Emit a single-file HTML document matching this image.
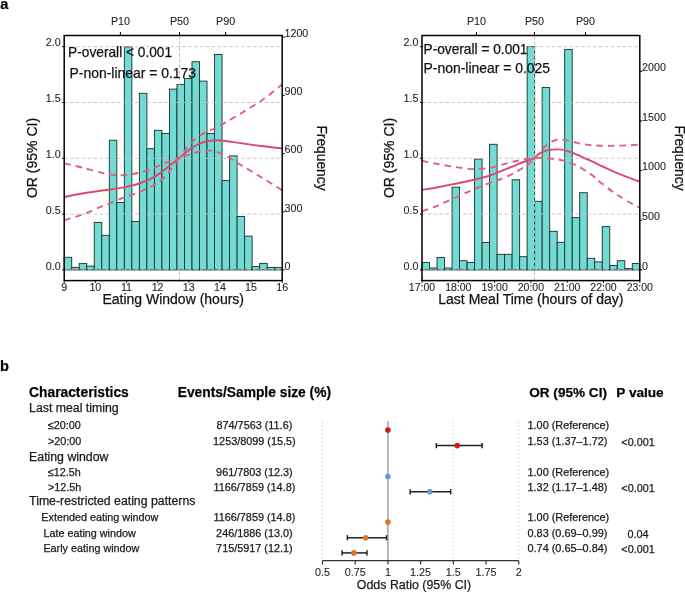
<!DOCTYPE html>
<html><head><meta charset="utf-8"><style>
html,body{margin:0;padding:0;background:#fff;width:685px;height:592px;overflow:hidden}
svg{display:block;will-change:transform}
text{font-family:"Liberation Sans", sans-serif;stroke:#1a1a1a;stroke-width:0.25px}
.tk{fill:#262626;stroke:#262626;stroke-width:0.1px}
</style></head><body>
<svg width="685" height="592" viewBox="0 0 685 592" font-family="&quot;Liberation Sans&quot;, sans-serif">
<rect width="685" height="592" fill="#fff"/>
<rect x="64.2" y="257.3" width="7.52" height="12.6" fill="#72dcd4" stroke="#1a2e2c" stroke-width="0.9"/>
<rect x="71.72" y="267.4" width="7.52" height="2.5" fill="#72dcd4" stroke="#1a2e2c" stroke-width="0.9"/>
<rect x="79.23" y="263.6" width="7.52" height="6.3" fill="#72dcd4" stroke="#1a2e2c" stroke-width="0.9"/>
<rect x="86.75" y="266.1" width="7.52" height="3.8" fill="#72dcd4" stroke="#1a2e2c" stroke-width="0.9"/>
<rect x="94.27" y="222.4" width="7.52" height="47.5" fill="#72dcd4" stroke="#1a2e2c" stroke-width="0.9"/>
<rect x="101.79" y="235.3" width="7.52" height="34.6" fill="#72dcd4" stroke="#1a2e2c" stroke-width="0.9"/>
<rect x="109.3" y="140.2" width="7.52" height="129.7" fill="#72dcd4" stroke="#1a2e2c" stroke-width="0.9"/>
<rect x="116.82" y="202.4" width="7.52" height="67.5" fill="#72dcd4" stroke="#1a2e2c" stroke-width="0.9"/>
<rect x="124.34" y="46.9" width="7.52" height="223" fill="#72dcd4" stroke="#1a2e2c" stroke-width="0.9"/>
<rect x="131.86" y="221.4" width="7.52" height="48.5" fill="#72dcd4" stroke="#1a2e2c" stroke-width="0.9"/>
<rect x="139.37" y="93.3" width="7.52" height="176.6" fill="#72dcd4" stroke="#1a2e2c" stroke-width="0.9"/>
<rect x="146.89" y="148.7" width="7.52" height="121.2" fill="#72dcd4" stroke="#1a2e2c" stroke-width="0.9"/>
<rect x="154.41" y="130.3" width="7.52" height="139.6" fill="#72dcd4" stroke="#1a2e2c" stroke-width="0.9"/>
<rect x="161.92" y="133.5" width="7.52" height="136.4" fill="#72dcd4" stroke="#1a2e2c" stroke-width="0.9"/>
<rect x="169.44" y="89.1" width="7.52" height="180.8" fill="#72dcd4" stroke="#1a2e2c" stroke-width="0.9"/>
<rect x="176.96" y="84.5" width="7.52" height="185.4" fill="#72dcd4" stroke="#1a2e2c" stroke-width="0.9"/>
<rect x="184.48" y="78.6" width="7.52" height="191.3" fill="#72dcd4" stroke="#1a2e2c" stroke-width="0.9"/>
<rect x="191.99" y="61.7" width="7.52" height="208.2" fill="#72dcd4" stroke="#1a2e2c" stroke-width="0.9"/>
<rect x="199.51" y="81.1" width="7.52" height="188.8" fill="#72dcd4" stroke="#1a2e2c" stroke-width="0.9"/>
<rect x="207.03" y="133.5" width="7.52" height="136.4" fill="#72dcd4" stroke="#1a2e2c" stroke-width="0.9"/>
<rect x="214.54" y="54.5" width="7.52" height="215.4" fill="#72dcd4" stroke="#1a2e2c" stroke-width="0.9"/>
<rect x="222.06" y="180.6" width="7.52" height="89.3" fill="#72dcd4" stroke="#1a2e2c" stroke-width="0.9"/>
<rect x="229.58" y="155.9" width="7.52" height="114" fill="#72dcd4" stroke="#1a2e2c" stroke-width="0.9"/>
<rect x="237.1" y="216.5" width="7.52" height="53.4" fill="#72dcd4" stroke="#1a2e2c" stroke-width="0.9"/>
<rect x="244.61" y="236.1" width="7.52" height="33.8" fill="#72dcd4" stroke="#1a2e2c" stroke-width="0.9"/>
<rect x="252.13" y="266.6" width="7.52" height="3.3" fill="#72dcd4" stroke="#1a2e2c" stroke-width="0.9"/>
<rect x="259.65" y="263.4" width="7.52" height="6.5" fill="#72dcd4" stroke="#1a2e2c" stroke-width="0.9"/>
<rect x="267.17" y="267.4" width="7.52" height="2.5" fill="#72dcd4" stroke="#1a2e2c" stroke-width="0.9"/>
<rect x="274.68" y="267.4" width="7.52" height="2.5" fill="#72dcd4" stroke="#1a2e2c" stroke-width="0.9"/>
<line x1="64.2" x2="282.2" y1="269.9" y2="269.9" stroke="#bdbdbd" stroke-opacity="0.85" stroke-width="1" stroke-dasharray="3.4 2.5"/>
<line x1="64.2" x2="282.2" y1="214.1" y2="214.1" stroke="#bdbdbd" stroke-opacity="0.85" stroke-width="1" stroke-dasharray="3.4 2.5"/>
<line x1="64.2" x2="282.2" y1="158.3" y2="158.3" stroke="#bdbdbd" stroke-opacity="0.85" stroke-width="1" stroke-dasharray="3.4 2.5"/>
<line x1="64.2" x2="282.2" y1="102.5" y2="102.5" stroke="#bdbdbd" stroke-opacity="0.85" stroke-width="1" stroke-dasharray="3.4 2.5"/>
<line x1="64.2" x2="282.2" y1="46.7" y2="46.7" stroke="#bdbdbd" stroke-opacity="0.85" stroke-width="1" stroke-dasharray="3.4 2.5"/>
<line x1="179.5" x2="179.5" y1="35.5" y2="280.6" stroke="#bdbdbd" stroke-width="1" stroke-dasharray="3.4 2.5"/>
<path d="M64.4,197 C67.38,196.42 75.95,194.58 82.3,193.5 C88.65,192.42 95.75,191.48 102.5,190.5 C109.25,189.52 117.17,188.6 122.8,187.6 C128.43,186.6 131.77,185.92 136.3,184.5 C140.83,183.08 146.03,181 150,179.1 C153.97,177.2 156.72,175.45 160.1,173.1 C163.48,170.75 167.17,167.47 170.3,165 C173.43,162.53 176.68,160.1 178.9,158.3 C181.12,156.5 181.55,155.87 183.6,154.2 C185.65,152.53 188.67,150 191.2,148.3 C193.73,146.6 196.27,145.13 198.8,144 C201.33,142.87 203.53,142.13 206.4,141.5 C209.27,140.87 212.5,140.25 216,140.2 C219.5,140.15 223.03,140.67 227.4,141.2 C231.77,141.73 236.22,142.55 242.2,143.4 C248.18,144.25 256.67,145.45 263.3,146.3 C269.93,147.15 278.88,148.13 282,148.5" fill="none" stroke="#db4a6d" stroke-width="1.9" stroke-linejoin="round" />
<path d="M64.4,163.4 C67.38,164.1 75.95,166 82.3,167.6 C88.65,169.2 96.88,171.77 102.5,173 C108.12,174.23 111.93,174.67 116,175 C120.07,175.33 123.28,175.33 126.9,175 C130.52,174.67 133.88,173.9 137.7,173 C141.52,172.1 146.5,170.72 149.8,169.6 C153.1,168.48 154.97,167.4 157.5,166.3 C160.03,165.2 162.7,163.85 165,163 C167.3,162.15 168.98,161.98 171.3,161.2 C173.62,160.42 177.63,158.78 178.9,158.3 L178.9,158.3 C179.82,157.12 182.98,153.1 184.4,151.2 C185.82,149.3 186.2,148.37 187.4,146.9 C188.6,145.43 190.2,143.8 191.6,142.4 C193,141 194.35,139.7 195.8,138.5 C197.25,137.3 198.65,136.25 200.3,135.2 C201.95,134.15 203.92,133.08 205.7,132.2 C207.48,131.32 209.37,130.6 211,129.9 C212.63,129.2 213.12,129.22 215.5,128 C217.88,126.78 220.85,125.17 225.3,122.6 C229.75,120.03 235.87,116.48 242.2,112.6 C248.53,108.72 256.67,103.98 263.3,99.3 C269.93,94.62 278.88,86.97 282,84.5" fill="none" stroke="#e0607f" stroke-width="1.9" stroke-linejoin="round" stroke-dasharray="6.5 5"/>
<path d="M64.4,220.1 C67.38,219.18 75.95,216.93 82.3,214.6 C88.65,212.27 95.75,208.87 102.5,206.1 C109.25,203.33 116.93,200.25 122.8,198 C128.67,195.75 132.83,194.6 137.7,192.6 C142.57,190.6 148.28,187.95 152,186 C155.72,184.05 157.88,182.4 160,180.9 C162.12,179.4 163.33,178.35 164.7,177 C166.07,175.65 167.02,174.27 168.2,172.8 C169.38,171.33 170.02,170.62 171.8,168.2 C173.58,165.78 177.72,159.95 178.9,158.3 L178.9,158.3 C179.82,157.93 182.6,156.75 184.4,156.1 C186.2,155.45 187.93,154.97 189.7,154.4 C191.47,153.83 193.23,153.22 195,152.7 C196.77,152.18 198.4,151.67 200.3,151.3 C202.2,150.93 204.37,150.55 206.4,150.5 C208.43,150.45 210.05,150.5 212.5,151 C214.95,151.5 217.92,152.12 221.1,153.5 C224.28,154.88 228.08,157.25 231.6,159.3 C235.12,161.35 236.92,162.6 242.2,165.8 C247.48,169 256.67,174.45 263.3,178.5 C269.93,182.55 278.88,188.17 282,190.1" fill="none" stroke="#e0607f" stroke-width="1.9" stroke-linejoin="round" stroke-dasharray="6.5 5"/>
<rect x="64.2" y="35.5" width="218" height="245.1" fill="none" stroke="#000" stroke-width="1.5"/>
<line x1="120.4" x2="120.4" y1="32" y2="35.5" stroke="#000" stroke-width="1"/>
<text class="tk" x="120.4" y="24.7" font-size="10.7" text-anchor="middle">P10</text>
<line x1="179.5" x2="179.5" y1="32" y2="35.5" stroke="#000" stroke-width="1"/>
<text class="tk" x="179.5" y="24.7" font-size="10.7" text-anchor="middle">P50</text>
<line x1="225.6" x2="225.6" y1="32" y2="35.5" stroke="#000" stroke-width="1"/>
<text class="tk" x="225.6" y="24.7" font-size="10.7" text-anchor="middle">P90</text>
<line x1="62.2" x2="64.2" y1="269.9" y2="269.9" stroke="#000" stroke-width="1"/>
<text class="tk" x="60.6" y="269.6" font-size="10.7" text-anchor="end">0.0</text>
<line x1="62.2" x2="64.2" y1="214.1" y2="214.1" stroke="#000" stroke-width="1"/>
<text class="tk" x="60.6" y="213.8" font-size="10.7" text-anchor="end">0.5</text>
<line x1="62.2" x2="64.2" y1="158.3" y2="158.3" stroke="#000" stroke-width="1"/>
<text class="tk" x="60.6" y="158" font-size="10.7" text-anchor="end">1.0</text>
<line x1="62.2" x2="64.2" y1="102.5" y2="102.5" stroke="#000" stroke-width="1"/>
<text class="tk" x="60.6" y="102.2" font-size="10.7" text-anchor="end">1.5</text>
<line x1="62.2" x2="64.2" y1="46.7" y2="46.7" stroke="#000" stroke-width="1"/>
<text class="tk" x="60.6" y="46.4" font-size="10.7" text-anchor="end">2.0</text>
<line x1="282.2" x2="284.7" y1="269.9" y2="269.9" stroke="#000" stroke-width="1"/>
<text class="tk" x="284.5" y="269.7" font-size="10.7">0</text>
<line x1="282.2" x2="284.7" y1="211.72" y2="211.72" stroke="#000" stroke-width="1"/>
<text class="tk" x="284.5" y="211.52" font-size="10.7">300</text>
<line x1="282.2" x2="284.7" y1="153.55" y2="153.55" stroke="#000" stroke-width="1"/>
<text class="tk" x="284.5" y="153.35" font-size="10.7">600</text>
<line x1="282.2" x2="284.7" y1="95.37" y2="95.37" stroke="#000" stroke-width="1"/>
<text class="tk" x="284.5" y="95.17" font-size="10.7">900</text>
<line x1="282.2" x2="284.7" y1="37.2" y2="37.2" stroke="#000" stroke-width="1"/>
<text class="tk" x="284.5" y="37" font-size="10.7">1200</text>
<line x1="64.2" x2="64.2" y1="280.6" y2="283.1" stroke="#000" stroke-width="0.8"/>
<text class="tk" x="64.2" y="290.6" font-size="10.7" text-anchor="middle">9</text>
<line x1="95.34" x2="95.34" y1="280.6" y2="283.1" stroke="#000" stroke-width="0.8"/>
<text class="tk" x="95.34" y="290.6" font-size="10.7" text-anchor="middle">10</text>
<line x1="126.49" x2="126.49" y1="280.6" y2="283.1" stroke="#000" stroke-width="0.8"/>
<text class="tk" x="126.49" y="290.6" font-size="10.7" text-anchor="middle">11</text>
<line x1="157.63" x2="157.63" y1="280.6" y2="283.1" stroke="#000" stroke-width="0.8"/>
<text class="tk" x="157.63" y="290.6" font-size="10.7" text-anchor="middle">12</text>
<line x1="188.77" x2="188.77" y1="280.6" y2="283.1" stroke="#000" stroke-width="0.8"/>
<text class="tk" x="188.77" y="290.6" font-size="10.7" text-anchor="middle">13</text>
<line x1="219.91" x2="219.91" y1="280.6" y2="283.1" stroke="#000" stroke-width="0.8"/>
<text class="tk" x="219.91" y="290.6" font-size="10.7" text-anchor="middle">14</text>
<line x1="251.06" x2="251.06" y1="280.6" y2="283.1" stroke="#000" stroke-width="0.8"/>
<text class="tk" x="251.06" y="290.6" font-size="10.7" text-anchor="middle">15</text>
<line x1="282.2" x2="282.2" y1="280.6" y2="283.1" stroke="#000" stroke-width="0.8"/>
<text class="tk" x="282.2" y="290.6" font-size="10.7" text-anchor="middle">16</text>
<text x="173.2" y="304" font-size="14" text-anchor="middle" fill="#111">Eating Window (hours)</text>
<text transform="translate(36.6,158) rotate(-90)" font-size="14" text-anchor="middle" fill="#111">OR (95% CI)</text>
<text transform="translate(317,158) rotate(90)" font-size="13.8" text-anchor="middle" fill="#111">Frequency</text>
<text x="68.1" y="56.9" font-size="13.9" fill="#111" textLength="104" lengthAdjust="spacingAndGlyphs">P-overall &lt; 0.001</text>
<text x="69.5" y="77.8" font-size="13.9" fill="#111" textLength="126.6" lengthAdjust="spacingAndGlyphs">P-non-linear = 0.173</text>
<rect x="422" y="262.4" width="7.51" height="7.5" fill="#72dcd4" stroke="#1a2e2c" stroke-width="0.9"/>
<rect x="429.51" y="268" width="7.51" height="1.9" fill="#72dcd4" stroke="#1a2e2c" stroke-width="0.9"/>
<rect x="437.02" y="257.5" width="7.51" height="12.4" fill="#72dcd4" stroke="#1a2e2c" stroke-width="0.9"/>
<rect x="444.53" y="268" width="7.51" height="1.9" fill="#72dcd4" stroke="#1a2e2c" stroke-width="0.9"/>
<rect x="452.04" y="187.2" width="7.51" height="82.7" fill="#72dcd4" stroke="#1a2e2c" stroke-width="0.9"/>
<rect x="459.55" y="260.7" width="7.51" height="9.2" fill="#72dcd4" stroke="#1a2e2c" stroke-width="0.9"/>
<rect x="467.06" y="262.4" width="7.51" height="7.5" fill="#72dcd4" stroke="#1a2e2c" stroke-width="0.9"/>
<rect x="474.57" y="159.1" width="7.51" height="110.8" fill="#72dcd4" stroke="#1a2e2c" stroke-width="0.9"/>
<rect x="482.08" y="242.5" width="7.51" height="27.4" fill="#72dcd4" stroke="#1a2e2c" stroke-width="0.9"/>
<rect x="489.59" y="144.3" width="7.51" height="125.6" fill="#72dcd4" stroke="#1a2e2c" stroke-width="0.9"/>
<rect x="497.1" y="254.3" width="7.51" height="15.6" fill="#72dcd4" stroke="#1a2e2c" stroke-width="0.9"/>
<rect x="504.61" y="254.3" width="7.51" height="15.6" fill="#72dcd4" stroke="#1a2e2c" stroke-width="0.9"/>
<rect x="512.12" y="179.8" width="7.51" height="90.1" fill="#72dcd4" stroke="#1a2e2c" stroke-width="0.9"/>
<rect x="519.63" y="256.7" width="7.51" height="13.2" fill="#72dcd4" stroke="#1a2e2c" stroke-width="0.9"/>
<rect x="527.14" y="46.6" width="7.51" height="223.3" fill="#72dcd4" stroke="#1a2e2c" stroke-width="0.9"/>
<rect x="534.66" y="201.3" width="7.51" height="68.6" fill="#72dcd4" stroke="#1a2e2c" stroke-width="0.9"/>
<rect x="542.17" y="87.5" width="7.51" height="182.4" fill="#72dcd4" stroke="#1a2e2c" stroke-width="0.9"/>
<rect x="549.68" y="231.3" width="7.51" height="38.6" fill="#72dcd4" stroke="#1a2e2c" stroke-width="0.9"/>
<rect x="557.19" y="242.3" width="7.51" height="27.6" fill="#72dcd4" stroke="#1a2e2c" stroke-width="0.9"/>
<rect x="564.7" y="49.4" width="7.51" height="220.5" fill="#72dcd4" stroke="#1a2e2c" stroke-width="0.9"/>
<rect x="572.21" y="217.6" width="7.51" height="52.3" fill="#72dcd4" stroke="#1a2e2c" stroke-width="0.9"/>
<rect x="579.72" y="192.7" width="7.51" height="77.2" fill="#72dcd4" stroke="#1a2e2c" stroke-width="0.9"/>
<rect x="587.23" y="258.3" width="7.51" height="11.6" fill="#72dcd4" stroke="#1a2e2c" stroke-width="0.9"/>
<rect x="594.74" y="261.9" width="7.51" height="8" fill="#72dcd4" stroke="#1a2e2c" stroke-width="0.9"/>
<rect x="602.25" y="226.6" width="7.51" height="43.3" fill="#72dcd4" stroke="#1a2e2c" stroke-width="0.9"/>
<rect x="609.76" y="265.5" width="7.51" height="4.4" fill="#72dcd4" stroke="#1a2e2c" stroke-width="0.9"/>
<rect x="617.27" y="260.7" width="7.51" height="9.2" fill="#72dcd4" stroke="#1a2e2c" stroke-width="0.9"/>
<rect x="624.78" y="268.6" width="7.51" height="1.3" fill="#72dcd4" stroke="#1a2e2c" stroke-width="0.9"/>
<rect x="632.29" y="263.5" width="7.51" height="6.4" fill="#72dcd4" stroke="#1a2e2c" stroke-width="0.9"/>
<line x1="422" x2="639.8" y1="269.9" y2="269.9" stroke="#bdbdbd" stroke-opacity="0.85" stroke-width="1" stroke-dasharray="3.4 2.5"/>
<line x1="422" x2="639.8" y1="214.1" y2="214.1" stroke="#bdbdbd" stroke-opacity="0.85" stroke-width="1" stroke-dasharray="3.4 2.5"/>
<line x1="422" x2="639.8" y1="158.3" y2="158.3" stroke="#bdbdbd" stroke-opacity="0.85" stroke-width="1" stroke-dasharray="3.4 2.5"/>
<line x1="422" x2="639.8" y1="102.5" y2="102.5" stroke="#bdbdbd" stroke-opacity="0.85" stroke-width="1" stroke-dasharray="3.4 2.5"/>
<line x1="422" x2="639.8" y1="46.7" y2="46.7" stroke="#bdbdbd" stroke-opacity="0.85" stroke-width="1" stroke-dasharray="3.4 2.5"/>
<line x1="534.4" x2="534.4" y1="35.5" y2="280.6" stroke="#bdbdbd" stroke-width="1" stroke-dasharray="3.4 2.5"/>
<path d="M422,190 C424.62,189.53 432.12,188.25 437.7,187.2 C443.28,186.15 449.58,184.9 455.5,183.7 C461.42,182.5 467.78,181.27 473.2,180 C478.62,178.73 483.57,177.5 488,176.1 C492.43,174.7 495.87,173.15 499.8,171.6 C503.73,170.05 507.65,168.4 511.6,166.8 C515.55,165.2 519.72,163.42 523.5,162 C527.28,160.58 532.5,158.92 534.3,158.3 L534.3,158.3 C535.1,157.58 537.28,155.25 539.1,154 C540.92,152.75 543,151.53 545.2,150.8 C547.4,150.07 550.1,149.83 552.3,149.6 C554.5,149.37 556.22,149.27 558.4,149.4 C560.58,149.53 562.7,149.7 565.4,150.4 C568.1,151.1 571.72,152.45 574.6,153.6 C577.48,154.75 579.8,156 582.7,157.3 C585.6,158.6 589.08,160.07 592,161.4 C594.92,162.73 596.3,163.47 600.2,165.3 C604.1,167.13 610.33,170.23 615.4,172.4 C620.47,174.57 626.58,176.8 630.6,178.3 C634.62,179.8 638.02,180.88 639.5,181.4" fill="none" stroke="#db4a6d" stroke-width="1.9" stroke-linejoin="round" />
<path d="M422,160.9 C424.62,161.42 432.12,162.97 437.7,164 C443.28,165.03 450.17,166.28 455.5,167.1 C460.83,167.92 465.77,168.58 469.7,168.9 C473.63,169.22 475.47,169.22 479.1,169 C482.73,168.78 487.45,168.37 491.5,167.6 C495.55,166.83 499.45,165.47 503.4,164.4 C507.35,163.33 511.47,162.07 515.2,161.2 C518.93,160.33 522.62,159.68 525.8,159.2 C528.98,158.72 532.88,158.45 534.3,158.3 L534.3,158.3 C535.77,156.67 540.95,150.78 543.1,148.5 C545.25,146.22 545.33,145.92 547.2,144.6 C549.07,143.28 552.27,141.42 554.3,140.6 C556.33,139.78 557.55,139.78 559.4,139.7 C561.25,139.62 562.87,139.68 565.4,140.1 C567.93,140.52 571.72,141.55 574.6,142.2 C577.48,142.85 579.8,143.5 582.7,144 C585.6,144.5 589.08,144.92 592,145.2 C594.92,145.48 596.3,145.6 600.2,145.7 C604.1,145.8 610.33,145.88 615.4,145.8 C620.47,145.72 626.58,145.38 630.6,145.2 C634.62,145.02 638.02,144.78 639.5,144.7" fill="none" stroke="#e0607f" stroke-width="1.9" stroke-linejoin="round" stroke-dasharray="6.5 5"/>
<path d="M422,211.3 C424.62,210.35 432.12,207.9 437.7,205.6 C443.28,203.3 449.58,200.17 455.5,197.5 C461.42,194.83 467.78,191.92 473.2,189.6 C478.62,187.28 483.57,185.28 488,183.6 C492.43,181.92 495.87,181.05 499.8,179.5 C503.73,177.95 508.05,176.05 511.6,174.3 C515.15,172.55 518.13,170.85 521.1,169 C524.07,167.15 527.2,164.98 529.4,163.2 C531.6,161.42 533.48,159.12 534.3,158.3 L534.3,158.3 C535.6,158.22 539.1,157.72 542.1,157.8 C545.1,157.88 548.92,158.37 552.3,158.8 C555.68,159.23 559.87,159.88 562.4,160.4 C564.93,160.92 565.47,161.2 567.5,161.9 C569.53,162.6 572.07,163.42 574.6,164.6 C577.13,165.78 579.8,167.25 582.7,169 C585.6,170.75 589.08,172.9 592,175.1 C594.92,177.3 596.3,179.12 600.2,182.2 C604.1,185.28 610.33,190.13 615.4,193.6 C620.47,197.07 626.58,200.68 630.6,203 C634.62,205.32 638.02,206.75 639.5,207.5" fill="none" stroke="#e0607f" stroke-width="1.9" stroke-linejoin="round" stroke-dasharray="6.5 5"/>
<rect x="422" y="35.5" width="217.8" height="245.1" fill="none" stroke="#000" stroke-width="1.5"/>
<line x1="476.5" x2="476.5" y1="32" y2="35.5" stroke="#000" stroke-width="1"/>
<text class="tk" x="476.5" y="24.7" font-size="10.7" text-anchor="middle">P10</text>
<line x1="534.4" x2="534.4" y1="32" y2="35.5" stroke="#000" stroke-width="1"/>
<text class="tk" x="534.4" y="24.7" font-size="10.7" text-anchor="middle">P50</text>
<line x1="585.5" x2="585.5" y1="32" y2="35.5" stroke="#000" stroke-width="1"/>
<text class="tk" x="585.5" y="24.7" font-size="10.7" text-anchor="middle">P90</text>
<line x1="420" x2="422" y1="269.9" y2="269.9" stroke="#000" stroke-width="1"/>
<text class="tk" x="418.4" y="269.6" font-size="10.7" text-anchor="end">0.0</text>
<line x1="420" x2="422" y1="214.1" y2="214.1" stroke="#000" stroke-width="1"/>
<text class="tk" x="418.4" y="213.8" font-size="10.7" text-anchor="end">0.5</text>
<line x1="420" x2="422" y1="158.3" y2="158.3" stroke="#000" stroke-width="1"/>
<text class="tk" x="418.4" y="158" font-size="10.7" text-anchor="end">1.0</text>
<line x1="420" x2="422" y1="102.5" y2="102.5" stroke="#000" stroke-width="1"/>
<text class="tk" x="418.4" y="102.2" font-size="10.7" text-anchor="end">1.5</text>
<line x1="420" x2="422" y1="46.7" y2="46.7" stroke="#000" stroke-width="1"/>
<text class="tk" x="418.4" y="46.4" font-size="10.7" text-anchor="end">2.0</text>
<line x1="639.8" x2="642.3" y1="269.9" y2="269.9" stroke="#000" stroke-width="1"/>
<text class="tk" x="642.1" y="269.7" font-size="10.7">0</text>
<line x1="639.8" x2="642.3" y1="220.25" y2="220.25" stroke="#000" stroke-width="1"/>
<text class="tk" x="642.1" y="220.05" font-size="10.7">500</text>
<line x1="639.8" x2="642.3" y1="170.6" y2="170.6" stroke="#000" stroke-width="1"/>
<text class="tk" x="642.1" y="170.4" font-size="10.7">1000</text>
<line x1="639.8" x2="642.3" y1="120.95" y2="120.95" stroke="#000" stroke-width="1"/>
<text class="tk" x="642.1" y="120.75" font-size="10.7">1500</text>
<line x1="639.8" x2="642.3" y1="71.3" y2="71.3" stroke="#000" stroke-width="1"/>
<text class="tk" x="642.1" y="71.1" font-size="10.7">2000</text>
<line x1="422" x2="422" y1="280.6" y2="283.1" stroke="#000" stroke-width="0.8"/>
<text class="tk" x="422" y="291" font-size="10.5" text-anchor="middle">17:00</text>
<line x1="458.3" x2="458.3" y1="280.6" y2="283.1" stroke="#000" stroke-width="0.8"/>
<text class="tk" x="458.3" y="291" font-size="10.5" text-anchor="middle">18:00</text>
<line x1="494.6" x2="494.6" y1="280.6" y2="283.1" stroke="#000" stroke-width="0.8"/>
<text class="tk" x="494.6" y="291" font-size="10.5" text-anchor="middle">19:00</text>
<line x1="530.9" x2="530.9" y1="280.6" y2="283.1" stroke="#000" stroke-width="0.8"/>
<text class="tk" x="530.9" y="291" font-size="10.5" text-anchor="middle">20:00</text>
<line x1="567.2" x2="567.2" y1="280.6" y2="283.1" stroke="#000" stroke-width="0.8"/>
<text class="tk" x="567.2" y="291" font-size="10.5" text-anchor="middle">21:00</text>
<line x1="603.5" x2="603.5" y1="280.6" y2="283.1" stroke="#000" stroke-width="0.8"/>
<text class="tk" x="603.5" y="291" font-size="10.5" text-anchor="middle">22:00</text>
<line x1="639.8" x2="639.8" y1="280.6" y2="283.1" stroke="#000" stroke-width="0.8"/>
<text class="tk" x="639.8" y="291" font-size="10.5" text-anchor="middle">23:00</text>
<text x="530.9" y="304" font-size="14" text-anchor="middle" fill="#111">Last Meal Time (hours of day)</text>
<text transform="translate(394.4,158) rotate(-90)" font-size="14" text-anchor="middle" fill="#111">OR (95% CI)</text>
<text transform="translate(674.6,158) rotate(90)" font-size="13.8" text-anchor="middle" fill="#111">Frequency</text>
<text x="423.5" y="53.9" font-size="13.9" fill="#111" textLength="104" lengthAdjust="spacingAndGlyphs">P-overall = 0.001</text>
<text x="423.5" y="73" font-size="13.9" fill="#111" textLength="126.6" lengthAdjust="spacingAndGlyphs">P-non-linear = 0.025</text>
<text x="0.3" y="8.8" font-size="14.6" font-weight="bold">a</text>
<text x="0" y="370.6" font-size="14.6" font-weight="bold">b</text>
<text x="29.1" y="397" font-size="13.8" font-weight="bold">Characteristics</text>
<text x="254.4" y="396.6" font-size="13.8" font-weight="bold" text-anchor="middle">Events/Sample size (%)</text>
<text x="529.2" y="397" font-size="13.6" font-weight="bold">OR (95% CI)</text>
<text x="616.3" y="397" font-size="13.6" font-weight="bold">P value</text>
<line x1="322.5" x2="322.5" y1="421" y2="560" stroke="#d0d0d0" stroke-width="0.8" stroke-dasharray="2 2"/>
<line x1="453.3" x2="453.3" y1="421" y2="560" stroke="#d0d0d0" stroke-width="0.8" stroke-dasharray="2 2"/>
<line x1="518.7" x2="518.7" y1="421" y2="560" stroke="#d0d0d0" stroke-width="0.8" stroke-dasharray="2 2"/>
<line x1="387.9" x2="387.9" y1="421" y2="560" stroke="#b3b3b3" stroke-width="1.8"/>
<text x="29.1" y="411.5" font-size="12.3" fill="#1a1a1a">Last meal timing</text>
<text x="47.9" y="429.2" font-size="10.8" fill="#1a1a1a">&#8804;20:00</text>
<text x="254.4" y="429.2" font-size="10.85" text-anchor="middle" fill="#1a1a1a">874/7563 (11.6)</text>
<text x="527.5" y="429.2" font-size="10.9" fill="#1a1a1a">1.00 (Reference)</text>
<circle cx="387.9" cy="430.1" r="2.8" fill="#cd1c12"/>
<text x="47.9" y="444.7" font-size="10.8" fill="#1a1a1a">&gt;20:00</text>
<text x="254.4" y="444.7" font-size="10.85" text-anchor="middle" fill="#1a1a1a">1253/8099 (15.5)</text>
<text x="527.5" y="444.7" font-size="10.9" fill="#1a1a1a">1.53 (1.37&#8211;1.72)</text>
<text x="638" y="445.6" font-size="10.8" text-anchor="middle" fill="#1a1a1a">&lt;0.001</text>
<line x1="436.3" x2="482.08" y1="445.6" y2="445.6" stroke="#222" stroke-width="1.5"/>
<line x1="436.3" x2="436.3" y1="443" y2="448.2" stroke="#222" stroke-width="1.5"/>
<line x1="482.08" x2="482.08" y1="443" y2="448.2" stroke="#222" stroke-width="1.5"/>
<circle cx="457.22" cy="445.6" r="2.8" fill="#cd1c12"/>
<text x="29.1" y="461.2" font-size="12.3" fill="#1a1a1a">Eating window</text>
<text x="47.9" y="475.6" font-size="10.8" fill="#1a1a1a">&#8804;12.5h</text>
<text x="254.4" y="475.6" font-size="10.85" text-anchor="middle" fill="#1a1a1a">961/7803 (12.3)</text>
<text x="527.5" y="475.6" font-size="10.9" fill="#1a1a1a">1.00 (Reference)</text>
<circle cx="387.9" cy="476.5" r="2.8" fill="#5b9be0"/>
<text x="47.9" y="490.9" font-size="10.8" fill="#1a1a1a">&gt;12.5h</text>
<text x="254.4" y="490.9" font-size="10.85" text-anchor="middle" fill="#1a1a1a">1166/7859 (14.8)</text>
<text x="527.5" y="490.9" font-size="10.9" fill="#1a1a1a">1.32 (1.17&#8211;1.48)</text>
<text x="638" y="491.8" font-size="10.8" text-anchor="middle" fill="#1a1a1a">&lt;0.001</text>
<line x1="410.14" x2="450.68" y1="491.8" y2="491.8" stroke="#222" stroke-width="1.5"/>
<line x1="410.14" x2="410.14" y1="489.2" y2="494.4" stroke="#222" stroke-width="1.5"/>
<line x1="450.68" x2="450.68" y1="489.2" y2="494.4" stroke="#222" stroke-width="1.5"/>
<circle cx="429.76" cy="491.8" r="2.8" fill="#5b9be0"/>
<text x="29.1" y="505" font-size="12.3" fill="#1a1a1a">Time-restricted eating patterns</text>
<text x="41.3" y="521.2" font-size="10.8" fill="#1a1a1a">Extended eating window</text>
<text x="254.4" y="521.2" font-size="10.85" text-anchor="middle" fill="#1a1a1a">1166/7859 (14.8)</text>
<text x="527.5" y="521.2" font-size="10.9" fill="#1a1a1a">1.00 (Reference)</text>
<circle cx="387.9" cy="522.1" r="2.8" fill="#e4731f"/>
<text x="43.4" y="536.8" font-size="10.8" fill="#1a1a1a">Late eating window</text>
<text x="254.4" y="536.8" font-size="10.85" text-anchor="middle" fill="#1a1a1a">246/1886 (13.0)</text>
<text x="527.5" y="536.8" font-size="10.9" fill="#1a1a1a">0.83 (0.69&#8211;0.99)</text>
<text x="638" y="537.7" font-size="10.8" text-anchor="middle" fill="#1a1a1a">0.04</text>
<line x1="347.35" x2="386.59" y1="537.7" y2="537.7" stroke="#222" stroke-width="1.5"/>
<line x1="347.35" x2="347.35" y1="535.1" y2="540.3" stroke="#222" stroke-width="1.5"/>
<line x1="386.59" x2="386.59" y1="535.1" y2="540.3" stroke="#222" stroke-width="1.5"/>
<circle cx="365.66" cy="537.7" r="2.8" fill="#e4731f"/>
<text x="43.4" y="552" font-size="10.8" fill="#1a1a1a">Early eating window</text>
<text x="254.4" y="552" font-size="10.85" text-anchor="middle" fill="#1a1a1a">715/5917 (12.1)</text>
<text x="527.5" y="552" font-size="10.9" fill="#1a1a1a">0.74 (0.65&#8211;0.84)</text>
<text x="638" y="552.9" font-size="10.8" text-anchor="middle" fill="#1a1a1a">&lt;0.001</text>
<line x1="342.12" x2="366.97" y1="552.9" y2="552.9" stroke="#222" stroke-width="1.5"/>
<line x1="342.12" x2="342.12" y1="550.3" y2="555.5" stroke="#222" stroke-width="1.5"/>
<line x1="366.97" x2="366.97" y1="550.3" y2="555.5" stroke="#222" stroke-width="1.5"/>
<circle cx="353.89" cy="552.9" r="2.8" fill="#e4731f"/>
<line x1="322.5" x2="518.6" y1="560.6" y2="560.6" stroke="#333" stroke-width="1.3"/>
<line x1="322.5" x2="322.5" y1="560.6" y2="564.6" stroke="#333" stroke-width="1.2"/>
<text class="tk" x="322.5" y="575.9" font-size="10.8" text-anchor="middle">0.5</text>
<line x1="355.2" x2="355.2" y1="560.6" y2="564.6" stroke="#333" stroke-width="1.2"/>
<text class="tk" x="355.2" y="575.9" font-size="10.8" text-anchor="middle">0.75</text>
<line x1="387.9" x2="387.9" y1="560.6" y2="564.6" stroke="#333" stroke-width="1.2"/>
<text class="tk" x="387.9" y="575.9" font-size="10.8" text-anchor="middle">1</text>
<line x1="420.6" x2="420.6" y1="560.6" y2="564.6" stroke="#333" stroke-width="1.2"/>
<text class="tk" x="420.6" y="575.9" font-size="10.8" text-anchor="middle">1.25</text>
<line x1="453.3" x2="453.3" y1="560.6" y2="564.6" stroke="#333" stroke-width="1.2"/>
<text class="tk" x="453.3" y="575.9" font-size="10.8" text-anchor="middle">1.5</text>
<line x1="486" x2="486" y1="560.6" y2="564.6" stroke="#333" stroke-width="1.2"/>
<text class="tk" x="486" y="575.9" font-size="10.8" text-anchor="middle">1.75</text>
<line x1="518.7" x2="518.7" y1="560.6" y2="564.6" stroke="#333" stroke-width="1.2"/>
<text class="tk" x="518.7" y="575.9" font-size="10.8" text-anchor="middle">2</text>
<text x="414" y="589" font-size="12.4" text-anchor="middle" fill="#1a1a1a">Odds Ratio (95% CI)</text>
</svg>
</body></html>
